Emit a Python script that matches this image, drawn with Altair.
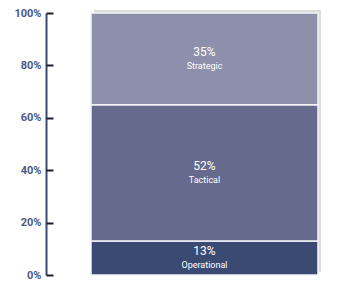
import altair as alt
import pandas as pd

categories = ["Operational", "Tactical", "Strategic"]
values = [13, 52, 35]
ranks = [0, 1, 2]
colors = ["#3b4a73", "#666a8d", "#8e8fab"]
y_ticks = [0, 20, 40, 60, 80, 100]

df = pd.DataFrame({
    "group": ["All"] * len(categories),
    "category": categories,
    "value": values,
    "rank": ranks,
})

W = 301
H = 262
xscale = alt.Scale(paddingInner=0, paddingOuter=0.163, align=0.608)
yscale = alt.Scale(domain=[0, 100], nice=False)

base = alt.Chart(df)

shadow = base.transform_aggregate(
    total="sum(value)", groupby=["group"]
).mark_bar(color="#dcdcdc", xOffset=3, yOffset=-3).encode(
    x=alt.X("group:N", scale=xscale, axis=None),
    y=alt.Y("total:Q", scale=yscale, axis=None),
)

bars = base.mark_bar(stroke="#f4f4f8", strokeWidth=1.5).encode(
    x=alt.X("group:N", scale=xscale,
            axis=alt.Axis(title=None, labels=False, ticks=False,
                          domainColor="#3b4a72", domainWidth=2)),
    y=alt.Y("value:Q", stack="zero", scale=yscale,
            axis=alt.Axis(title=None, values=y_ticks, labelExpr="datum.value + '%'",
                          ticks=False, grid=False, domainColor="#3b4a72", domainWidth=2,
                          labelColor="#4a5985", labelFont="Roboto", labelFontSize=11,
                          labelFontWeight="bold", labelPadding=5)),
    color=alt.Color("category:N", scale=alt.Scale(domain=categories, range=colors), legend=None),
    order=alt.Order("rank:Q"),
)

stacked = base.transform_stack(
    stack="value", groupby=["group"], as_=["y0", "y1"], sort=[alt.SortField("rank")]
).transform_calculate(
    mid="(datum.y0 + datum.y1) / 2", pct="datum.value + '%'"
)

pct_text = stacked.mark_text(color="white", font="Roboto", fontSize=12, dy=-7).encode(
    x=alt.X("group:N", scale=xscale, axis=None),
    y=alt.Y("mid:Q", scale=yscale,
            axis=alt.Axis(orient="right", offset=-W, title=None, values=y_ticks,
                          labels=False, domain=False, grid=False, ticks=True,
                          tickSize=7, tickWidth=2, tickColor="#1e1e2a")),
    text="pct:N",
)

cat_text = stacked.mark_text(color="white", font="Roboto", fontSize=9, dy=7).encode(
    x=alt.X("group:N", scale=xscale, axis=None),
    y=alt.Y("mid:Q", scale=yscale, axis=None),
    text="category:N",
)

chart = alt.layer(shadow, bars, pct_text, cat_text).resolve_axis(y="independent").properties(
    width=W, height=H,
    autosize=alt.AutoSizeParams(type="none"),
    padding={"left": 38, "top": 5, "right": 0, "bottom": 6},
).configure_view(stroke=None)

chart.save("out.html", embed_options={"renderer": "svg", "actions": False})
